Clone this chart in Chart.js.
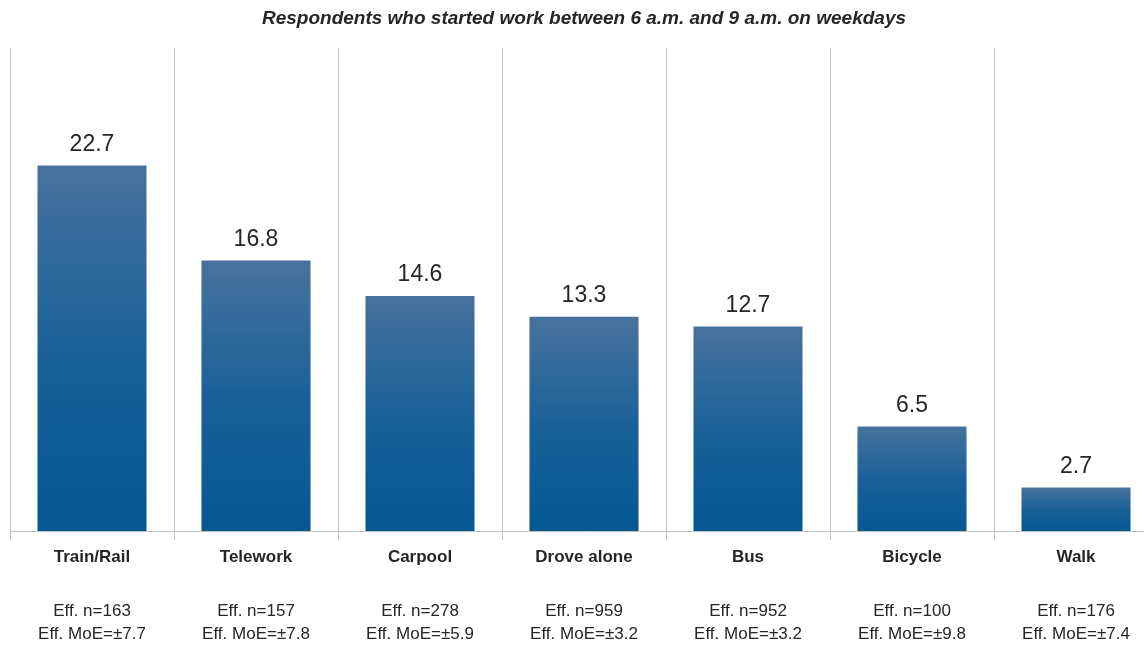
<!DOCTYPE html>
<html>
<head>
<meta charset="utf-8">
<script src="https://cdn.jsdelivr.net/npm/chart.js@4/dist/chart.umd.min.js"></script>
<style>
  body { margin: 0; overflow: hidden; background: #fff; }
</style>
</head>
<body>
<canvas id="modeChart" width="1160" height="672"></canvas>
<script>
const modes = ['Train/Rail', 'Telework', 'Carpool', 'Drove alone', 'Bus', 'Bicycle', 'Walk'];
const shares = [22.7, 16.8, 14.6, 13.3, 12.7, 6.5, 2.7];
const effN = [163, 157, 278, 959, 952, 100, 176];
const effMoE = ['7.7', '7.8', '5.9', '3.2', '3.2', '9.8', '7.4'];

const FONT = "'Liberation Sans', Arial, sans-serif";
const TEXT = '#262626';
const GRID = '#c2c2c2';

// second row of axis labels: sample size + margin of error
const sampleLabels = modes.map((m, i) => ['Eff. n=' + effN[i], 'Eff. MoE=\u00b1' + effMoE[i]]);

function barGradient(context) {
    const chart = context.chart;
    const yScale = chart.scales.y;
    if (!yScale || !chart.chartArea) return '#1a5f96';
    const top = yScale.getPixelForValue(context.raw);
    const bottom = yScale.getPixelForValue(0);
    const g = chart.ctx.createLinearGradient(0, top, 0, bottom);
    g.addColorStop(0, '#48729d');
    g.addColorStop(0.5, '#1a6199');
    g.addColorStop(1, '#055891');
    return g;
}

const valueLabels = {
    id: 'valueLabels',
    afterDatasetsDraw(chart) {
        const ctx = chart.ctx;
        const meta = chart.getDatasetMeta(0);
        ctx.save();
        ctx.font = '23px ' + FONT;
        ctx.fillStyle = TEXT;
        ctx.textAlign = 'center';
        ctx.textBaseline = 'middle';
        meta.data.forEach((bar, i) => {
            ctx.fillText(shares[i].toFixed(1), bar.x, bar.y - 21);
        });
        ctx.restore();
    }
};

new Chart(document.getElementById('modeChart'), {
    type: 'bar',
    data: {
        labels: modes,
        datasets: [{
            data: shares,
            backgroundColor: barGradient,
            borderWidth: 0,
            barPercentage: 0.665,
            categoryPercentage: 1.0
        }]
    },
    options: {
        responsive: false,
        animation: false,
        layout: { padding: { left: 10, right: 2, top: 0, bottom: 1.6 } },
        plugins: {
            legend: { display: false },
            tooltip: { enabled: false },
            title: {
                display: true,
                text: 'Respondents who started work between 6 a.m. and 9 a.m. on weekdays',
                color: TEXT,
                font: { family: FONT, size: 19, weight: 'bold', style: 'italic' },
                padding: { top: 7, bottom: 18 }
            }
        },
        scales: {
            y: {
                display: false,
                min: 0,
                max: 30
            },
            x: {
                position: 'bottom',
                grid: {
                    color: GRID,
                    lineWidth: 1,
                    offset: true,
                    tickLength: 9
                },
                border: { color: GRID, width: 1 },
                ticks: {
                    color: TEXT,
                    padding: 7,
                    font: { family: FONT, size: 17, weight: 'bold' }
                }
            },
            x2: {
                position: 'bottom',
                type: 'category',
                labels: sampleLabels,
                grid: { display: false, drawTicks: false },
                border: { display: false },
                ticks: {
                    color: TEXT,
                    padding: 25,
                    font: { family: FONT, size: 17, lineHeight: 1.35 }
                }
            }
        }
    },
    plugins: [valueLabels]
});
</script>
</body>
</html>
